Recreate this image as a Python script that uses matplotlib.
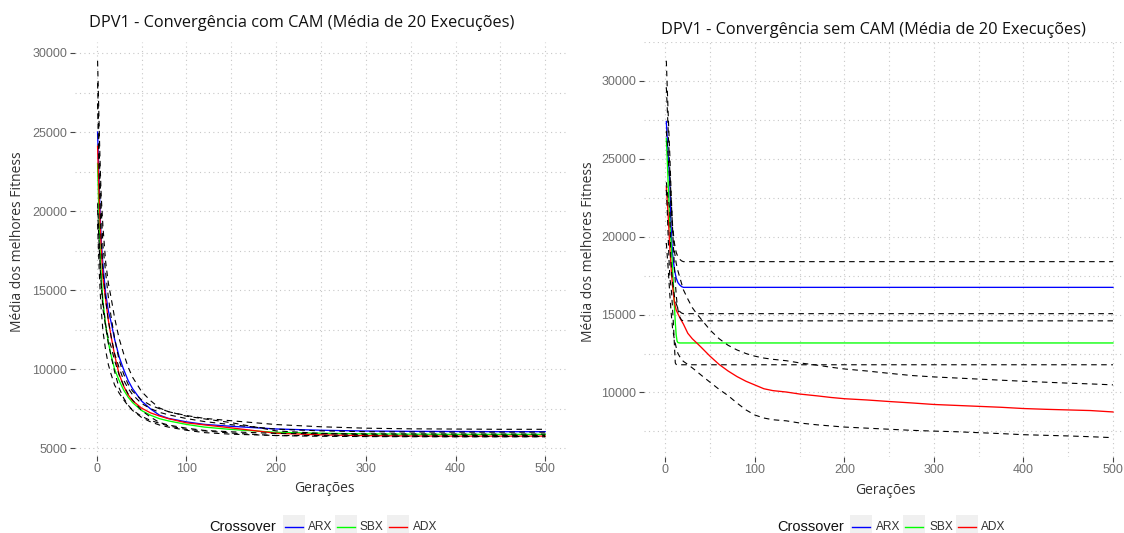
import matplotlib
matplotlib.use("Agg")
import matplotlib.pyplot as plt
from matplotlib.patches import Rectangle
from matplotlib.lines import Line2D
from matplotlib.ticker import MultipleLocator, FuncFormatter

# ---------------- data: com CAM ----------------
gens_cam = [1, 2, 3, 4, 5, 7, 10, 13, 16, 20, 25, 30, 35, 40, 50, 60, 70, 80,
            100, 120, 150, 200, 250, 300, 350, 400, 450, 500]
arx_cam = [25000, 23200, 21300, 19600, 18200, 16600, 14800, 13700, 13000, 11900,
           10800, 10000, 9300, 8780, 8000, 7500, 7100, 6900, 6680, 6520, 6400,
           6230, 6150, 6100, 6080, 6070, 6060, 6060]
sbx_cam = [23000, 20800, 18900, 17300, 16000, 14300, 12800, 11700, 10900, 10000,
           9300, 8700, 8250, 7900, 7400, 7100, 6880, 6740, 6520, 6350, 6200,
           6020, 5960, 5920, 5900, 5890, 5890, 5890]
adx_cam = [24100, 22300, 20500, 19000, 17800, 15800, 14400, 13100, 12100, 10900,
           9700, 8950, 8400, 8020, 7550, 7250, 7050, 6880, 6620, 6490, 6300,
           5960, 5860, 5810, 5790, 5780, 5780, 5780]
arx_sd_cam = [4500, 4000, 3500, 3100, 2800, 2400, 2000, 1750, 1550, 1350, 1150,
              1000, 850, 720, 600, 520, 460, 420, 400, 380, 350, 280, 220, 180,
              160, 155, 150, 150]
sbx_sd_cam = [3800, 3300, 2900, 2500, 2200, 1900, 1600, 1400, 1200, 1000, 800,
              620, 550, 500, 440, 420, 400, 390, 370, 350, 300, 200, 150, 140,
              140, 140, 140, 140]
adx_sd_cam = [4000, 3500, 3000, 2700, 2400, 2000, 1700, 1450, 1250, 1050, 880,
              760, 660, 600, 520, 480, 460, 450, 420, 380, 330, 150, 90, 60, 50,
              45, 45, 45]

# ---------------- data: sem CAM ----------------
gens_arx_sem = [1, 2, 3, 4, 5, 6, 7, 8, 10, 12, 14, 16, 18, 20, 500]
arx_sem = [27400, 26300, 25200, 24300, 23400, 21000, 19800, 18900, 17900, 17350,
           17050, 16900, 16800, 16750, 16750]
arx_up_sem = [31300, 29600, 28000, 26500, 25100, 23400, 21900, 20700, 19600,
              19000, 18700, 18550, 18450, 18400, 18400]
arx_lo_sem = [23500, 23000, 22400, 22100, 21700, 18600, 17700, 17100, 16200,
              15700, 15400, 15200, 15100, 15060, 15060]

gens_sbx_sem = [1, 2, 3, 4, 5, 6, 7, 8, 9, 10, 11, 12, 13, 14, 16, 18, 20, 500]
sbx_sem = [26300, 25000, 23500, 22000, 20700, 19900, 19000, 17900, 16800, 15600,
           14500, 13700, 13300, 13200, 13180, 13180, 13180, 13180]
sbx_up_sem = [29600, 28300, 26900, 25500, 24100, 22900, 21700, 20500, 19300,
              18100, 17100, 16300, 15700, 15300, 14850, 14650, 14600, 14600]
sbx_lo_sem = [23000, 21700, 20100, 18500, 17300, 16900, 16300, 15300, 14300,
              13100, 11900, 11800, 11780, 11780, 11780, 11780, 11780, 11780]

gens_adx_sem = [1, 2, 3, 4, 5, 6, 7, 8, 10, 12, 14, 17, 20, 25, 30, 35, 40, 50,
                60, 70, 80, 90, 100, 110, 120, 135, 150, 170, 185, 200, 225, 250,
                275, 300, 325, 350, 375, 400, 425, 450, 475, 500]
adx_sem = [23200, 22300, 21400, 20300, 19200, 18300, 17500, 16800, 15800, 15300,
           15050, 14700, 14400, 13800, 13450, 13180, 12900, 12320, 11800, 11380,
           11020, 10720, 10480, 10240, 10120, 10030, 9900, 9780, 9680, 9600, 9520,
           9420, 9330, 9230, 9170, 9110, 9050, 8970, 8920, 8880, 8840, 8750]
adx_up_sem = [26800, 26000, 25200, 24300, 23300, 22300, 21300, 20500, 19100,
              18300, 17800, 17200, 16600, 16000, 15450, 15050, 14700, 14000,
              13450, 13030, 12730, 12500, 12330, 12210, 12130, 12040, 11900,
              11750, 11620, 11510, 11380, 11230, 11090, 11000, 10930, 10860,
              10790, 10720, 10660, 10600, 10550, 10490]
adx_lo_sem = [19600, 18800, 18000, 17100, 16200, 15400, 14700, 14100, 13400,
              12900, 12500, 12200, 12000, 11800, 11580, 11350, 11110, 10650,
              10200, 9800, 9320, 8880, 8550, 8360, 8250, 8180, 8040, 7920, 7850,
              7780, 7710, 7640, 7570, 7520, 7480, 7420, 7360, 7290, 7250, 7210,
              7160, 7100]

series_names = ["ARX", "SBX", "ADX"]
series_colors = ["#0000ff", "#00ff00", "#ff0000"]

titles = ["DPV1 - Convergência com CAM (Média de 20 Execuções)",
          "DPV1 - Convergência sem CAM (Média de 20 Execuções)"]
xlabel = "Gerações"
ylabel = "Média dos melhores Fitness"
legend_title = "Crossover"

# ---------------- figure ----------------
W, H = 1124, 533
fig = plt.figure(figsize=(W / 100, H / 100), dpi=100)


def px_axes(x0, y_top, w, h):
    return fig.add_axes([x0 / W, 1 - (y_top + h) / H, w / W, h / H])


TICK_FONT = "Liberation Sans"
TEXT_FONT = "Open Sans"
DASH = (0, (5, 4))


def style_axes(ax, ylim):
    ax.set_xlim(-23.95, 524.95)
    ax.set_ylim(*ylim)
    for s in ax.spines.values():
        s.set_visible(False)
    ax.set_facecolor("white")
    ax.xaxis.set_major_locator(MultipleLocator(100))
    ax.xaxis.set_minor_locator(MultipleLocator(50))
    ax.yaxis.set_major_locator(MultipleLocator(5000))
    ax.yaxis.set_minor_locator(MultipleLocator(2500))
    ax.yaxis.set_major_formatter(FuncFormatter(lambda v, p: f"{int(v)}"))
    ax.grid(True, which="both", color="#c8c8c8", linewidth=0.8,
            linestyle=(0, (1, 3)))
    ax.set_axisbelow(True)
    ax.tick_params(which="major", direction="out", length=3.6, width=0.8,
                   color="#444444", labelcolor="#6e6e6e", labelsize=9, pad=2)
    ax.tick_params(which="minor", length=0)
    for lab in ax.get_xticklabels() + ax.get_yticklabels():
        lab.set_fontfamily(TICK_FONT)


def draw_lines(ax, data):
    for (g, mean, up, lo), color in zip(data, series_colors):
        ax.plot(g, mean, color=color, linewidth=0.95, zorder=3)
    for (g, mean, up, lo) in data:
        ax.plot(g, up, color="black", linewidth=0.8, linestyle=DASH, zorder=4)
        ax.plot(g, lo, color="black", linewidth=0.8, linestyle=DASH, zorder=4)


# left panel: com CAM
ax1 = px_axes(75.2, 42.1, 492.4, 413.5)
cam_data = []
for mean, sd in [(arx_cam, arx_sd_cam), (sbx_cam, sbx_sd_cam), (adx_cam, adx_sd_cam)]:
    up = [m + s for m, s in zip(mean, sd)]
    lo = [m - s for m, s in zip(mean, sd)]
    cam_data.append((gens_cam, mean, up, lo))
draw_lines(ax1, cam_data)
style_axes(ax1, (4547, 30688))

# right panel: sem CAM
ax2 = px_axes(644.0, 41.9, 491.3, 414.6)
sem_data = [(gens_arx_sem, arx_sem, arx_up_sem, arx_lo_sem),
            (gens_sbx_sem, sbx_sem, sbx_up_sem, sbx_lo_sem),
            (gens_adx_sem, adx_sem, adx_up_sem, adx_lo_sem)]
draw_lines(ax2, sem_data)
style_axes(ax2, (5890, 32510))


def ftext(x, y, s, **kw):
    fig.text(x / W, 1 - y / H, s, **kw)


# titles and axis titles
ftext(302, 23, titles[0], ha="center", va="center", fontsize=11.8,
      family=TEXT_FONT, color="#111111")
ftext(873, 30, titles[1], ha="center", va="center", fontsize=11.8,
      family=TEXT_FONT, color="#111111")
ftext(17.5, 242, ylabel, ha="center", va="center", rotation=90, fontsize=10,
      family=TEXT_FONT, color="#333333")
ftext(589, 252, ylabel, ha="center", va="center", rotation=90, fontsize=10,
      family=TEXT_FONT, color="#333333")
ftext(324, 488, xlabel, ha="center", va="center", fontsize=10,
      family=TEXT_FONT, color="#333333")
ftext(885, 490, xlabel, ha="center", va="center", fontsize=10,
      family=TEXT_FONT, color="#333333")


def draw_legend(title_x, box_xs, label_xs, y=527):
    ftext(title_x, y, legend_title, ha="left", va="center", fontsize=10.5,
          family=TICK_FONT, color="#111111")
    for bx, lx, name, color in zip(box_xs, label_xs, series_names, series_colors):
        fig.add_artist(Rectangle((bx / W, 1 - 540 / H), 22 / W, 25 / H,
                                 transform=fig.transFigure, facecolor="#f0f0f0",
                                 edgecolor="none"))
        fig.add_artist(Line2D([(bx + 2) / W, (bx + 20) / W], [1 - y / H] * 2,
                              color=color, linewidth=1.0,
                              transform=fig.transFigure))
        ftext(lx, y, name, ha="left", va="center", fontsize=8.6,
              family=TICK_FONT, color="#333333")


draw_legend(209, [283, 335, 387], [308, 360, 413])
draw_legend(777, [850, 903, 956], [876, 929, 981])

fig.savefig("out.png", dpi=100)
